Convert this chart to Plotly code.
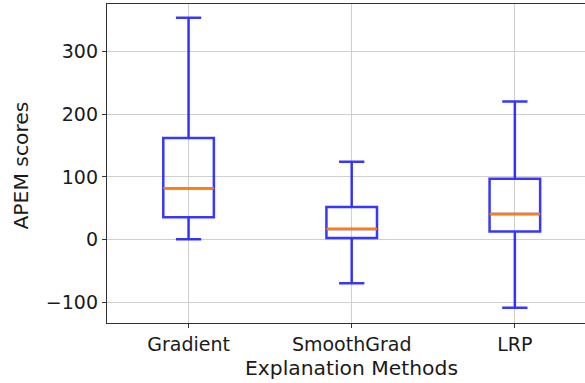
import plotly.graph_objects as go

methods = ["Gradient", "SmoothGrad", "LRP"]
positions = [1, 2, 3]
lower_whisker = [1, -69, -108]
q1_vals = [36, 3, 13]
medians = [82, 17, 41]
q3_vals = [162, 52, 97]
upper_whisker = [353, 124, 220]

box_width = 0.31
blue = "rgba(20,20,255,0.85)"
orange = "#ff7f0e"
font = "DejaVu Sans"

fig = go.Figure()
for i, m in enumerate(methods):
    fig.add_trace(go.Box(
        x=[positions[i]], q1=[q1_vals[i]], median=[medians[i]], q3=[q3_vals[i]],
        lowerfence=[lower_whisker[i]], upperfence=[upper_whisker[i]],
        width=box_width, whiskerwidth=0.5, name=m,
        line=dict(color=blue, width=2.5), fillcolor="rgba(0,0,0,0)",
        boxpoints=False, hoverinfo="skip", showlegend=False,
    ))
    fig.add_trace(go.Scatter(
        x=[positions[i] - box_width / 2, positions[i] + box_width / 2],
        y=[medians[i], medians[i]], mode="lines",
        line=dict(color=orange, width=2.5), showlegend=False, hoverinfo="skip",
    ))

fig.add_annotation(x=2, xref="x", y=-0.141, yref="paper", text="Explanation Methods",
                   showarrow=False, font=dict(family=font, size=20.3, color="#1a1a1a"),
                   yanchor="middle")
fig.add_annotation(x=-0.179, xref="paper", y=0.495, yref="paper", text="APEM scores",
                   showarrow=False, textangle=-90,
                   font=dict(family=font, size=20.3, color="#1a1a1a"),
                   xanchor="center", yanchor="middle")

fig.update_layout(
    width=585, height=383,
    margin=dict(l=107, r=0, t=4, b=60, autoexpand=False),
    plot_bgcolor="white", paper_bgcolor="white",
    font=dict(family=font, size=19, color="#1a1a1a"),
    xaxis=dict(range=[0.5, 3.43], tickvals=positions, ticktext=methods,
               showline=True, linecolor="#333", linewidth=1.2, mirror=True,
               ticks="outside", ticklen=4, tickcolor="#333", automargin=False,
               showgrid=True, gridcolor="#cfcfcf", gridwidth=1, zeroline=False),
    yaxis=dict(range=[-132.3, 374.9], tickvals=[-100, 0, 100, 200, 300],
               ticktext=["\u2212100", "0", "100", "200", "300"],
               showline=True, linecolor="#333", linewidth=1.2,
               ticks="outside", ticklen=4, tickcolor="#333", automargin=False,
               showgrid=True, gridcolor="#cfcfcf", gridwidth=1, zeroline=False),
)

fig.write_html("out.html", post_script="document.body.style.margin='0';",
               config={"displayModeBar": False, "staticPlot": True})
